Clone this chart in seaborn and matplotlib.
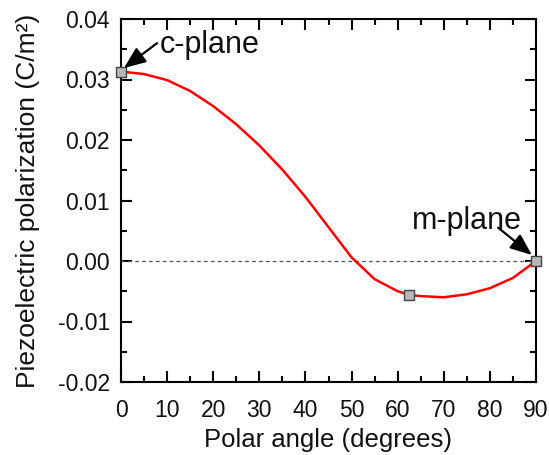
import matplotlib
matplotlib.use("Agg")
import matplotlib.pyplot as plt
import seaborn as sns
import pandas as pd
from matplotlib.ticker import MultipleLocator

angle = [0, 5, 10, 15, 20, 25, 30, 35, 40, 45, 50, 55, 60, 62.5, 65, 70, 75, 80, 85, 90]
polarization = [0.0313, 0.0309, 0.0299, 0.0281, 0.0256, 0.0226, 0.0191, 0.0151, 0.0106,
                0.0056, 0.0006, -0.0030, -0.0050, -0.0056, -0.0058, -0.0060, -0.0055,
                -0.0045, -0.0028, 0.0000]
marker_angle = [0, 62.5, 90]
marker_pol = [0.0313, -0.0056, 0.0]
xticks = [0, 10, 20, 30, 40, 50, 60, 70, 80, 90]
yticks = [-0.02, -0.01, 0.0, 0.01, 0.02, 0.03, 0.04]
ytick_labels = ["-0.02", "-0.01", "0.00", "0.01", "0.02", "0.03", "0.04"]

sns.set_theme(style="ticks")
plt.rcParams['font.family'] = ['Liberation Sans', 'DejaVu Sans']
plt.rcParams['text.color'] = '#111111'

df = pd.DataFrame({"angle": angle, "pol": polarization})
mk = pd.DataFrame({"angle": marker_angle, "pol": marker_pol})

fig = plt.figure(figsize=(5.49, 4.55), dpi=100)
ax = fig.add_axes([121/549, 1-382/455, 415/549, 363/455])

ax.axhline(0, color="#555555", lw=0.9, ls=(0, (3, 2.5)), zorder=1)
sns.lineplot(data=df, x="angle", y="pol", ax=ax, color="red", lw=1.8, zorder=2)
sns.scatterplot(data=mk, x="angle", y="pol", ax=ax, marker="s", s=60,
                color="#b8b8b8", edgecolor="#444444", linewidth=1.0, zorder=3, clip_on=False)

ax.set_xlim(0, 90)
ax.set_ylim(-0.02, 0.04)
ax.set_xticks(xticks)
ax.xaxis.set_minor_locator(MultipleLocator(5))
ax.set_yticks(yticks)
ax.set_yticklabels(ytick_labels)
ax.yaxis.set_minor_locator(MultipleLocator(0.005))
ax.tick_params(which="both", direction="in", top=True, right=True, color="black", width=1.5,
               labelcolor="#111111")
ax.tick_params(which="major", length=8, labelsize=16.5)
ax.tick_params(axis="x", which="major", pad=12)
ax.tick_params(axis="y", which="major", pad=8)
ax.tick_params(which="minor", length=4)
for s in ax.spines.values():
    s.set_linewidth(1.5)
    s.set_color("black")

ax.set_xlabel("Polar angle (degrees)", fontsize=18.5, color="#111111")
ax.set_ylabel("Piezoelectric polarization (C/m²)", fontsize=19, color="#111111")
ax.xaxis.set_label_coords(0.5, -0.16)
ax.xaxis.label.set_va("center")
ax.yaxis.set_label_coords(-0.225, 0.5)
ax.yaxis.label.set_va("center")

arrow = dict(arrowstyle="-|>,head_width=0.45,head_length=1.1", color="black", lw=1.6,
             shrinkA=0, shrinkB=0)
ax.annotate("", xy=(0.65, 0.0319), xytext=(7.8, 0.0360), arrowprops=arrow)
ax.text(8.4, 0.0357, "c-plane", fontsize=22, va="center", ha="left")
ax.annotate("", xy=(89.1, 0.0010), xytext=(81.8, 0.0055), arrowprops=arrow, annotation_clip=False)
ax.text(75.0, 0.0066, "m-plane", fontsize=22, va="center", ha="center")

fig.savefig("out.png", dpi=100)
